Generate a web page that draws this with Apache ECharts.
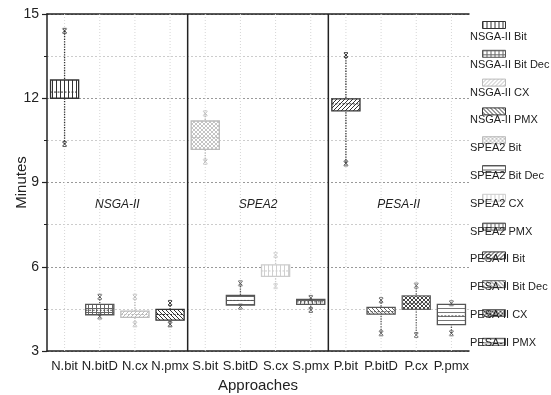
<!DOCTYPE html>
<html>
<head>
<meta charset="utf-8">
<script src="https://cdn.jsdelivr.net/npm/echarts@6/dist/echarts.min.js"></script>
<style>
  html, body { margin: 0; padding: 0; background: #fff; }
  #chart { width: 551px; height: 395px; }
</style>
</head>
<body>
<div id="chart"></div>
<script>
// categories and legend names
const categories = ["N.bit", "N.bitD", "N.cx", "N.pmx", "S.bit", "S.bitD", "S.cx", "S.pmx", "P.bit", "P.bitD", "P.cx", "P.pmx"];
const seriesNames = ["NSGA-II Bit", "NSGA-II Bit Dec", "NSGA-II CX", "NSGA-II PMX", "SPEA2 Bit", "SPEA2 Bit Dec", "SPEA2 CX", "SPEA2 PMX", "PESA-II Bit", "PESA-II Bit Dec", "PESA-II CX", "PESA-II PMX"];
// box statistics (minutes)
const mins    = [10.37, 4.23, 3.95, 3.95, 9.74, 4.58, 5.31, 4.46, 9.68, 3.63, 3.57, 3.63];
const q1s     = [12.00, 4.29, 4.20, 4.10, 10.18, 4.63, 5.66, 4.66, 11.55, 4.31, 4.48, 3.94];
const medians = [12.22, 4.45, 4.30, 4.30, 10.60, 4.80, 5.85, 4.75, 11.80, 4.40, 4.70, 4.25];
const q3s     = [12.65, 4.66, 4.42, 4.48, 11.19, 4.98, 6.07, 4.84, 11.98, 4.55, 4.96, 4.66];
const maxs    = [14.40, 4.93, 4.93, 4.71, 11.46, 5.41, 6.42, 4.89, 13.54, 4.81, 5.33, 4.70];
// groups
const groupNames = ["NSGA-II", "SPEA2", "PESA-II"];
const groupSpans = [[0, 3], [4, 7], [8, 11]];

const yMin = 3, yMax = 15, yStep = 3;
const FONT = "Liberation Sans, Arial, sans-serif";

// pattern kind + colour per series
const styles = [
  { kind: "vert",  color: "#333", border: "#333" },
  { kind: "grid",  color: "#666", border: "#555" },
  { kind: "diag",  color: "#bbb", border: "#bbb" },
  { kind: "back",  color: "#333", border: "#333" },
  { kind: "cross", color: "#c4c4c4", border: "#bbb" },
  { kind: "horiz", color: "#666", border: "#555" },
  { kind: "vert",  color: "#d0d0d0", border: "#ccc" },
  { kind: "grid",  color: "#666", border: "#555" },
  { kind: "diag",  color: "#333", border: "#333" },
  { kind: "back",  color: "#666", border: "#555" },
  { kind: "cross", color: "#444", border: "#666" },
  { kind: "horiz", color: "#777", border: "#555" }
];

function makePattern(kind, color) {
  const c = document.createElement("canvas");
  const s = 4;
  c.width = s; c.height = s;
  const g = c.getContext("2d");
  g.fillStyle = "#fff";
  g.fillRect(0, 0, s, s);
  g.strokeStyle = color;
  g.fillStyle = color;
  g.lineWidth = 1;
  if (kind === "vert") {
    g.fillRect(0, 0, 1, s);
  } else if (kind === "horiz") {
    g.fillRect(0, 0, s, 1);
  } else if (kind === "grid") {
    g.fillRect(0, 0, 1, s);
    g.fillRect(0, 0, s, 1);
  } else if (kind === "diag") {
    g.beginPath();
    g.moveTo(0, s); g.lineTo(s, 0);
    g.moveTo(-1, 1); g.lineTo(1, -1);
    g.moveTo(s - 1, s + 1); g.lineTo(s + 1, s - 1);
    g.stroke();
  } else if (kind === "back") {
    g.beginPath();
    g.moveTo(0, 0); g.lineTo(s, s);
    g.moveTo(s - 1, -1); g.lineTo(s + 1, 1);
    g.moveTo(-1, s - 1); g.lineTo(1, s + 1);
    g.stroke();
  } else if (kind === "cross") {
    g.beginPath();
    g.moveTo(0, 0); g.lineTo(s, s);
    g.moveTo(0, s); g.lineTo(s, 0);
    g.stroke();
  }
  return { image: c, repeat: "repeat" };
}

const patterns = styles.map(st => makePattern(st.kind, st.color));

function renderBox(params, api) {
  const st = styles[params.seriesIndex];
  const cat = api.value(0);
  const band = api.size([1, 0])[0];
  const w = band * 0.8;
  const pMin = api.coord([cat, api.value(1)]);
  const pQ1 = api.coord([cat, api.value(2)]);
  const pMed = api.coord([cat, api.value(3)]);
  const pQ3 = api.coord([cat, api.value(4)]);
  const pMax = api.coord([cat, api.value(5)]);
  const cx = pMin[0];
  const top = api.coord([cat, yMax])[1];
  const bottom = api.coord([cat, yMin])[1];
  const mark = (p) => ({
    type: "group",
    children: [
      { type: "line", shape: { x1: cx - 2, y1: p[1] - 2, x2: cx + 2, y2: p[1] + 2 }, style: { stroke: st.border, lineWidth: 1 } },
      { type: "line", shape: { x1: cx - 2, y1: p[1] + 2, x2: cx + 2, y2: p[1] - 2 }, style: { stroke: st.border, lineWidth: 1 } },
      { type: "line", shape: { x1: cx - 2, y1: p[1] - 2.5, x2: cx + 2, y2: p[1] - 2.5 }, style: { stroke: st.border, lineWidth: 0.8 } },
      { type: "line", shape: { x1: cx - 2, y1: p[1] + 2.5, x2: cx + 2, y2: p[1] + 2.5 }, style: { stroke: st.border, lineWidth: 0.8 } }
    ]
  });
  return {
    type: "group",
    children: [
      { type: "line", silent: true, shape: { x1: cx, y1: top, x2: cx, y2: bottom }, style: { stroke: "#d6d6d6", lineWidth: 1, lineDash: [1, 2] } },
      { type: "line", shape: { x1: cx, y1: pMax[1], x2: cx, y2: pMin[1] }, style: { stroke: st.border, lineWidth: 1.3, lineDash: [1.3, 1.3] } },
      { type: "rect", shape: { x: cx - w / 2, y: pQ3[1], width: w, height: pQ1[1] - pQ3[1] }, style: { fill: patterns[params.seriesIndex], stroke: st.border, lineWidth: 1.3 } },
      { type: "line", shape: { x1: cx - w / 2, y1: pMed[1], x2: cx + w / 2, y2: pMed[1] }, style: { stroke: st.border, lineWidth: 1, lineDash: [2, 1.5] } },
      mark(pMin),
      mark(pMax)
    ]
  };
}

function renderGroup(params, api) {
  const band = api.size([1, 0])[0];
  const a = api.coord([api.value(0), yMin]);
  const b = api.coord([api.value(1), yMin]);
  const top = api.coord([api.value(0), yMax])[1];
  const ly = api.coord([api.value(0), api.value(2)])[1];
  const children = [{
    type: "text",
    style: {
      x: (a[0] + b[0]) / 2, y: ly,
      text: groupNames[params.dataIndex],
      fill: "#222", font: "italic 12px " + FONT,
      textAlign: "center", textVerticalAlign: "middle"
    }
  }];
  if (params.dataIndex < groupSpans.length - 1) {
    const x = b[0] + band / 2;
    children.push({ type: "line", shape: { x1: x, y1: top, x2: x, y2: a[1] }, style: { stroke: "#222", lineWidth: 1.5 } });
  }
  return { type: "group", children };
}

const boxSeries = seriesNames.map((name, i) => ({
  name,
  type: "custom",
  renderItem: renderBox,
  itemStyle: { color: patterns[i], borderColor: styles[i].border, borderWidth: 1 },
  encode: { x: 0, y: [1, 2, 3, 4, 5] },
  data: [[i, mins[i], q1s[i], medians[i], q3s[i], maxs[i]]],
  z: 3
}));

const groupSeries = {
  name: "groups",
  type: "custom",
  renderItem: renderGroup,
  encode: { x: [0, 1], y: 2 },
  data: groupSpans.map(s => [s[0], s[1], 8.2]),
  silent: true,
  z: 4
};

const chart = echarts.init(document.getElementById("chart"));
chart.setOption({
  animation: false,
  textStyle: { fontFamily: FONT },
  grid: { left: 47, right: 82, top: 14, bottom: 44, containLabel: false, outerBoundsMode: "none" },
  legend: [
    {
      data: seriesNames.map((name, i) => ({
        name,
        itemStyle: { color: patterns[i], borderColor: styles[i].border, borderWidth: 1 }
      })),
      orient: "vertical",
      left: 482, top: 21,
      padding: 0,
      icon: "rect",
      itemWidth: 23, itemHeight: 7, itemGap: 20.8,
      formatter: () => "",
      textStyle: { fontSize: 1, lineHeight: 1 },
      selectedMode: false
    },
    {
      data: seriesNames,
      orient: "vertical",
      left: 465, top: 30,
      padding: 0,
      icon: "rect",
      itemWidth: 0, itemHeight: 14, itemGap: 13.8,
      itemStyle: { opacity: 0, borderWidth: 0 },
      textStyle: { fontSize: 11, color: "#222", fontFamily: FONT },
      selectedMode: false
    }
  ],
  xAxis: [
    {
      type: "category",
      data: categories,
      name: "Approaches",
      nameLocation: "middle",
      nameGap: 26,
      nameTextStyle: { fontSize: 15, color: "#222", fontFamily: FONT },
      axisLine: { lineStyle: { color: "#222", width: 1.5 } },
      axisTick: { alignWithLabel: true, length: 5, lineStyle: { color: "#222", width: 1.2 } },
      axisLabel: { fontSize: 13, color: "#222", margin: 9, interval: 0 },
      splitLine: { show: false }
    },
    {
      type: "category",
      data: categories,
      position: "top",
      axisLine: { lineStyle: { color: "#222", width: 1.5 } },
      axisTick: { alignWithLabel: true, inside: true, length: 6, lineStyle: { color: "#222", width: 1.2 } },
      axisLabel: { show: false },
      splitLine: { show: false }
    }
  ],
  yAxis: {
    type: "value",
    min: yMin, max: yMax, interval: yStep,
    name: "Minutes",
    nameLocation: "middle",
    nameGap: 18,
    nameMoveOverlap: false,
    nameTextStyle: { fontSize: 15, color: "#222", fontFamily: FONT },
    axisLine: { show: true, lineStyle: { color: "#222", width: 1.5 } },
    axisTick: { show: true, length: 5, lineStyle: { color: "#222", width: 1.2 } },
    minorTick: { show: true, splitNumber: 2, length: 3, lineStyle: { color: "#222", width: 1 } },
    axisLabel: { fontSize: 14, color: "#222", margin: 8 },
    splitLine: { show: true, lineStyle: { color: "#999", type: [2, 2], width: 1 } },
    minorSplitLine: { show: true, lineStyle: { color: "#ccc", type: [2, 2], width: 1 } }
  },
  series: boxSeries.concat([groupSeries])
});
</script>
</body>
</html>
